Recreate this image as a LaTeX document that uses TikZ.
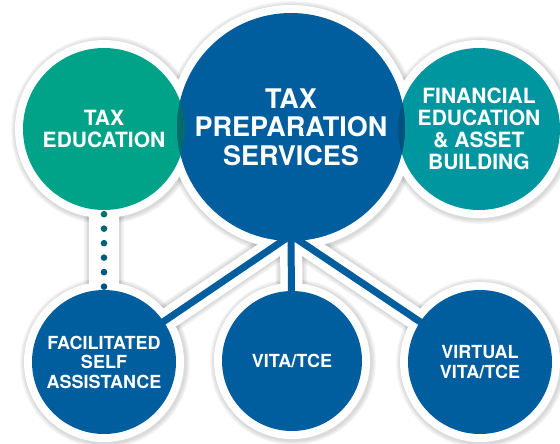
\documentclass[tikz,border=0pt]{standalone}
\usepackage{fontspec}
\setmainfont{TeX Gyre Heros}
\usetikzlibrary{calc}
\pgfdeclarelayer{shade}
\pgfdeclarelayer{ring}
\pgfdeclarelayer{link}
\pgfsetlayers{shade,ring,link,main}
\definecolor{prepblue}{RGB}{0,94,158}
\definecolor{edugreen}{RGB}{0,163,136}
\definecolor{fincyan}{RGB}{0,150,160}
\definecolor{lensgreen}{RGB}{0,108,110}
\definecolor{lensblue}{RGB}{0,82,126}
\definecolor{dotgreen}{RGB}{0,112,108}
\definecolor{dotblue}{RGB}{0,78,130}
\tikzset{
  bubble/.style={circle, inner sep=0pt, text=white, align=center, fill=prepblue},
  bigfont/.style={font=\bfseries\fontsize{27}{28.5}\selectfont},
  midfont/.style={font=\bfseries\fontsize{21}{22}\selectfont},
  smallfont/.style={font=\bfseries\fontsize{18}{19.5}\selectfont},
  ringline/.style={line width=22pt, white},
  linkline/.style={line width=7pt, prepblue},
}
\begin{document}
\begin{tikzpicture}[x=1pt,y=-1pt]
        \useasboundingbox (0,0) rectangle (560,444);
        % circles
        \node[bubble, fill=edugreen, minimum size=162pt, midfont] (edu) at (104,129) {TAX\\EDUCATION};
        \node[bubble, fill=fincyan, minimum size=162pt, midfont] (fin) at (479,129) {FINANCIAL\\EDUCATION\\\&\ ASSET\\BUILDING};
        \node[bubble, minimum size=228pt, bigfont] (prep) at (291,127) {TAX\\PREPARATION\\SERVICES};
        \node[bubble, minimum size=144pt, smallfont] (fsa) at (104,362) {FACILITATED\\SELF\\ASSISTANCE};
        \node[bubble, minimum size=140pt, smallfont] (vita) at (292,361) {VITA/TCE};
        \node[bubble, minimum size=144pt, smallfont] (virt) at (480,362) {VIRTUAL\\VITA/TCE};
        % overlaps
        \begin{scope}
        \clip (edu.center) circle[radius=81pt];
        \fill[lensgreen] (prep.center) circle[radius=114pt];
        \end{scope}
        \begin{scope}
        \clip (fin.center) circle[radius=81pt];
        \fill[lensblue] (prep.center) circle[radius=114pt];
        \end{scope}
        % white rings and soft shadows
        \begin{pgfonlayer}{ring}
        \foreach \n/\r in {edu/81, fin/81, prep/114, fsa/72, vita/70, virt/72}
          \fill[white] (\n.center) circle[radius=\r pt+8pt];
        \end{pgfonlayer}
        \begin{pgfonlayer}{shade}
        \foreach \n/\r in {edu/81, fin/81, prep/114, fsa/72, vita/70, virt/72}
          \foreach \k in {1,2,3}
            \fill[black, opacity=.05] ($(\n.center)+(1pt,-1pt)$) circle[radius=\r pt+8pt+\k*1.6pt];
        \end{pgfonlayer}
        % links
        \coordinate (hub) at ($(prep.south)+(0pt,6pt)$);
        \begin{pgfonlayer}{link}
        \foreach \n in {fsa, vita, virt}
          \draw[linkline] (hub) -- (\n.center);
        \end{pgfonlayer}
        \begin{pgfonlayer}{ring}
        \foreach \n in {fsa, vita, virt}
          \draw[ringline] (hub) -- (\n.center);
        \draw[ringline, line width=30pt] (edu.center) -- (fsa.center);
        \end{pgfonlayer}
        \begin{pgfonlayer}{shade}
        \foreach \n in {fsa, vita, virt}
          \foreach \k in {1,2,3}
            \draw[black, opacity=.05, line width=22pt+\k*3.2pt] (hub) -- (\n.center);
        \foreach \k in {1,2,3}
          \draw[black, opacity=.05, line width=30pt+\k*3.2pt] (edu.center) -- (fsa.center);
        \end{pgfonlayer}
        % dotted link
        \foreach \i in {0,...,5} {
          \pgfmathsetmacro\t{0.05+0.182*\i}
          \pgfmathtruncatemacro\pct{20*\i}
          \colorlet{dotcol}{dotblue!\pct!dotgreen}
          \fill[dotcol] ($(edu.south)!\t!(fsa.north)$) circle[radius=3.3pt];
        }
\end{tikzpicture}
\end{document}
